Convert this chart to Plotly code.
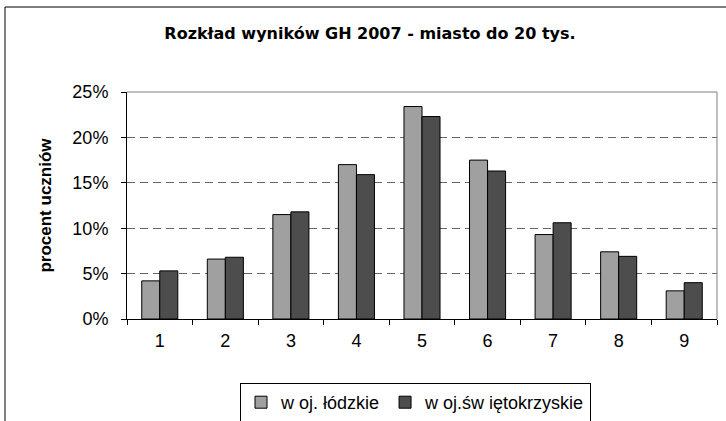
import plotly.graph_objects as go

categories = ["1", "2", "3", "4", "5", "6", "7", "8", "9"]
lodzkie = [4.2, 6.6, 11.5, 17.0, 23.4, 17.5, 9.3, 7.4, 3.1]
swietokrzyskie = [5.3, 6.8, 11.8, 15.9, 22.3, 16.3, 10.6, 6.9, 4.0]
series_names = ["w oj. łódzkie", "w oj.św iętokrzyskie"]
y_ticks = [0, 5, 10, 15, 20, 25]
y_tick_labels = ["0%", "5%", "10%", "15%", "20%", "25%"]

FONT = "Liberation Sans, Arial, sans-serif"

fig = go.Figure()
fig.add_trace(go.Bar(x=categories, y=lodzkie, name=series_names[0],
                     marker=dict(color="#A0A0A0", line=dict(color="#000000", width=1))))
fig.add_trace(go.Bar(x=categories, y=swietokrzyskie, name=series_names[1],
                     marker=dict(color="#4D4D4D", line=dict(color="#000000", width=1))))

L, R, T, B = 127, 9, 92, 102
W, H = 726, 421
pw, ph = W - L - R, H - T - B

def px(x):
    return (x - L) / pw

def py(y):
    return (H - B - y) / ph

fig.update_layout(
    width=W, height=H,
    margin=dict(l=L, r=R, t=T, b=B, autoexpand=False),
    paper_bgcolor="white", plot_bgcolor="white",
    barmode="group", bargap=0.45, bargroupgap=0,
    font=dict(family=FONT, color="#000000"),
    title=dict(text="<b>Rozkład wyników GH 2007 - miasto do 20 tys.</b>",
               font=dict(size=16, family="DejaVu Sans, sans-serif", color="#000000"),
               x=370 / W, xanchor="center", y=1 - 33 / H, yanchor="middle",
               xref="container", yref="container", automargin=False),
    xaxis=dict(type="category", showline=True, linecolor="#000000", linewidth=1,
               ticks="outside", tickson="boundaries", ticklen=5, tickcolor="#000000",
               ticklabelstandoff=5,
               tickfont=dict(size=18, family=FONT), showgrid=False, automargin=False),
    yaxis=dict(range=[0, 25], tickvals=y_ticks, ticktext=y_tick_labels,
               showline=True, linecolor="#000000", linewidth=1,
               ticks="outside", ticklen=5, tickcolor="#000000",
               ticklabelstandoff=9,
               tickfont=dict(size=18, family=FONT), automargin=False,
               showgrid=True, gridcolor="#666666", griddash="8px,5px", gridwidth=1,
               zeroline=False,
               title=dict(text="<b>procent uczniów</b>", font=dict(size=17, family=FONT),
                          standoff=16)),
    legend=dict(orientation="h", x=px(415.5), xanchor="center", y=py(383), yanchor="top",
                bordercolor="#000000", borderwidth=1, bgcolor="white",
                font=dict(size=18, family=FONT), itemwidth=30,
                traceorder="normal"),
    shapes=[
        dict(type="line", xref="paper", yref="paper", x0=0, x1=1, y0=1, y1=1,
             line=dict(color="#808080", width=1), layer="above"),
        dict(type="line", xref="paper", yref="paper", x0=1, x1=1, y0=0, y1=1,
             line=dict(color="#808080", width=1), layer="above"),
        dict(type="line", xref="paper", yref="paper", x0=px(5), x1=px(5), y0=py(421), y1=py(7),
             line=dict(color="#000000", width=1)),
        dict(type="line", xref="paper", yref="paper", x0=px(5), x1=px(726), y0=py(7), y1=py(7),
             line=dict(color="#000000", width=1)),
    ],
)

fig.write_html("out.html", config={"displayModeBar": False},
               post_script="document.body.style.margin='0';document.body.style.overflow='hidden';")
